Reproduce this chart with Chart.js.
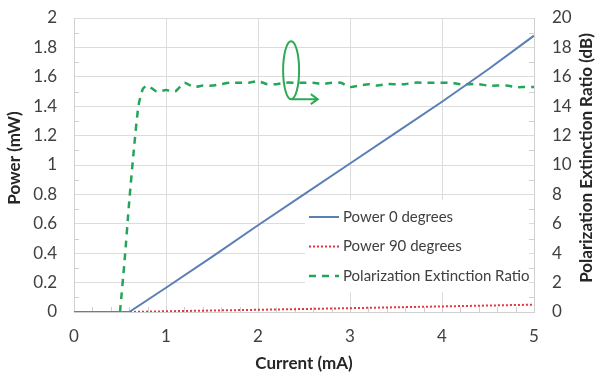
<!DOCTYPE html>
<html>
<head>
<meta charset="utf-8">
<script src="https://cdn.jsdelivr.net/npm/chart.js@4/dist/chart.umd.min.js"></script>
<style>
  html, body { margin: 0; padding: 0; background: #fff; }
  #wrap { width: 598px; height: 378px; }
</style>
</head>
<body>
<div id="wrap"><canvas id="chart" width="598" height="378"></canvas></div>
<script>
var p0Current = [0, 0.6, 1, 1.5, 2, 2.5, 3, 3.5, 4, 4.5, 5]
var p0Power   = [0, 0, 0.165, 0.375, 0.59, 0.8, 1.01, 1.22, 1.43, 1.65, 1.88]

var p90Current = [0, 0.6, 1, 2, 3, 4, 5]
var p90Power   = [0, 0, 0.005, 0.015, 0.026, 0.038, 0.05]

var perCurrent = [0.5, 0.55, 0.6, 0.65, 0.7, 0.75, 0.8, 0.9, 1.0, 1.1, 1.2, 1.3, 1.4, 1.5, 1.6, 1.7, 1.8, 1.9, 2.0,
                  2.1, 2.2, 2.3, 2.4, 2.5, 2.6, 2.7, 2.8, 2.9, 3.0, 3.1, 3.2, 3.3, 3.4, 3.5, 3.6, 3.7, 3.8, 3.9,
                  4.0, 4.1, 4.2, 4.3, 4.4, 4.5, 4.6, 4.7, 4.8, 4.9, 5.0]
var perRatio   = [0, 3.5, 7.5, 11, 14, 15.2, 15.4, 15.0, 15.1, 15.0, 15.6, 15.3, 15.4, 15.4, 15.5, 15.6, 15.6, 15.6, 15.7,
                  15.5, 15.5, 15.6, 15.6, 15.6, 15.6, 15.5, 15.6, 15.6, 15.3, 15.4, 15.5, 15.4, 15.5, 15.5, 15.5, 15.6, 15.6, 15.6,
                  15.6, 15.6, 15.5, 15.5, 15.5, 15.4, 15.4, 15.4, 15.3, 15.3, 15.3]

var seriesNames = ["Power 0 degrees", "Power 90 degrees", "Polarization Extinction Ratio"]
var xTitle = "Current (mA)"
var yTitle = "Power (mW)"
var y1Title = "Polarization Extinction Ratio (dB)"

var FONT = "Lato, 'Open Sans', sans-serif"
var BLUE = "#5b7fb5", RED = "#e8323c", GREEN = "#25a55a"

function pts(xs, ys) {
	var out = []
	for (var i = 0; i < xs.length; i++) out.push({x: xs[i], y: ys[i]})
	return out
}

function fmt(v) { return String(+v.toFixed(1)) }

// keep the plot area where the original has it
function fitY(w) {
	return function(s) { s.width = w; s.paddingTop = 8; s.paddingBottom = 8 }
}

// legend box, minor ticks, annotation and both y titles drawn by hand
var extras = {
	id: "extras",
	beforeDatasetsDraw: function(chart) {
		var ctx = chart.ctx, a = chart.chartArea
		var sx = chart.scales.x, sy = chart.scales.y, sy1 = chart.scales.y1
		ctx.save()
		ctx.strokeStyle = "#d0d0d0"
		ctx.lineWidth = 1
		ctx.beginPath()
		for (var v = 0.1; v < 2; v += 0.2) {
			var py = Math.round(sy.getPixelForValue(v)) + 0.5
			ctx.moveTo(a.left, py); ctx.lineTo(a.left + 5, py)
		}
		for (var d = 1; d < 20; d += 2) {
			var py1 = Math.round(sy1.getPixelForValue(d)) + 0.5
			ctx.moveTo(a.right, py1); ctx.lineTo(a.right - 5, py1)
		}
		for (var c = 0.2; c < 5; c += 0.2) {
			var px = Math.round(sx.getPixelForValue(c)) + 0.5
			ctx.moveTo(px, a.bottom); ctx.lineTo(px, a.bottom - 5)
		}
		ctx.stroke()

		// legend
		var lx = a.left + 231, ly = a.top + 182
		ctx.fillStyle = "#fff"
		ctx.fillRect(lx, ly, 224, 92)
		var ds = chart.data.datasets
		for (var i = 0; i < ds.length; i++) {
			var yy = ly + 17 + i * 29.5
			ctx.beginPath()
			ctx.strokeStyle = ds[i].borderColor
			ctx.lineWidth = ds[i].borderWidth
			ctx.setLineDash(ds[i].borderDash || [])
			ctx.moveTo(lx + 4, yy); ctx.lineTo(lx + 34, yy)
			ctx.stroke()
			ctx.setLineDash([])
			ctx.fillStyle = "#404040"
			ctx.font = "15px " + FONT
			ctx.textBaseline = "middle"
			ctx.textAlign = "left"
			ctx.fillText(ds[i].label, lx + 38, yy)
		}
		ctx.restore()
	},
	afterDatasetsDraw: function(chart) {
		var ctx = chart.ctx
		var sx = chart.scales.x, sy = chart.scales.y
		var cx = sx.getPixelForValue(2.36), cy = sy.getPixelForValue(1.645)
		ctx.save()
		ctx.strokeStyle = "#2eaa55"
		ctx.lineWidth = 2
		ctx.beginPath()
		ctx.ellipse(cx, cy, 8, 29, 0, 0, Math.PI * 2)
		ctx.stroke()
		var ax = sx.getPixelForValue(2.65)
		ctx.beginPath()
		ctx.moveTo(cx, cy + 29); ctx.lineTo(ax, cy + 29)
		ctx.moveTo(ax - 7, cy + 24); ctx.lineTo(ax, cy + 29); ctx.lineTo(ax - 7, cy + 34)
		ctx.stroke()
		ctx.restore()
	},
	afterDraw: function(chart) {
		var ctx = chart.ctx, a = chart.chartArea
		var mid = (a.top + a.bottom) / 2 - 7
		ctx.save()
		ctx.font = "bold 17px " + FONT
		ctx.fillStyle = "#262626"
		ctx.textAlign = "center"
		ctx.textBaseline = "middle"
		ctx.translate(15, mid)
		ctx.rotate(-Math.PI / 2)
		ctx.fillText(yTitle, 0, 0)
		ctx.restore()
		ctx.save()
		ctx.font = "bold 17px " + FONT
		ctx.fillStyle = "#262626"
		ctx.textAlign = "center"
		ctx.textBaseline = "middle"
		ctx.translate(chart.width - 11, mid)
		ctx.rotate(-Math.PI / 2)
		ctx.fillText(y1Title, 0, 0)
		ctx.restore()
	}
}

var tickFont = {family: FONT, size: 17}
var titleFont = {family: FONT, size: 17, weight: "bold"}

new Chart(document.getElementById("chart"), {
	type: "line",
	data: {
		datasets: [
			{label: seriesNames[0], data: pts(p0Current, p0Power), yAxisID: "y",
			 borderColor: BLUE, borderWidth: 2, pointRadius: 0, tension: 0},
			{label: seriesNames[1], data: pts(p90Current, p90Power), yAxisID: "y",
			 borderColor: RED, borderWidth: 2, borderDash: [2, 2], pointRadius: 0, tension: 0},
			{label: seriesNames[2], data: pts(perCurrent, perRatio), yAxisID: "y1",
			 borderColor: GREEN, borderWidth: 2.5, borderDash: [7, 6], pointRadius: 0, tension: 0.2}
		]
	},
	options: {
		responsive: false,
		animation: false,
		layout: {padding: {top: 18, left: 0, right: 0, bottom: 0}},
		plugins: {legend: {display: false}, tooltip: {enabled: false}},
		scales: {
			x: {
				type: "linear", min: 0, max: 5,
				ticks: {stepSize: 1, font: tickFont, color: "#404040", padding: 14, callback: fmt},
				grid: {color: "#dcdcdc", drawTicks: false},
				border: {color: "#d0d0d0"},
				title: {display: true, text: xTitle, font: titleFont, color: "#262626", padding: {top: 4, bottom: 4}},
				afterFit: function(s) { s.height = 66 }
			},
			y: {
				position: "left", min: 0, max: 2,
				ticks: {stepSize: 0.2, font: tickFont, color: "#404040", padding: 17, callback: fmt},
				grid: {color: "#dcdcdc", drawTicks: false},
				border: {color: "#d0d0d0"},
				afterFit: fitY(74)
			},
			y1: {
				position: "right", min: 0, max: 20,
				ticks: {stepSize: 2, font: tickFont, color: "#404040", padding: 18, callback: fmt},
				grid: {drawOnChartArea: false, drawTicks: false},
				border: {color: "#d0d0d0"},
				afterFit: fitY(64)
			}
		}
	},
	plugins: [extras]
})
</script>
</body>
</html>
